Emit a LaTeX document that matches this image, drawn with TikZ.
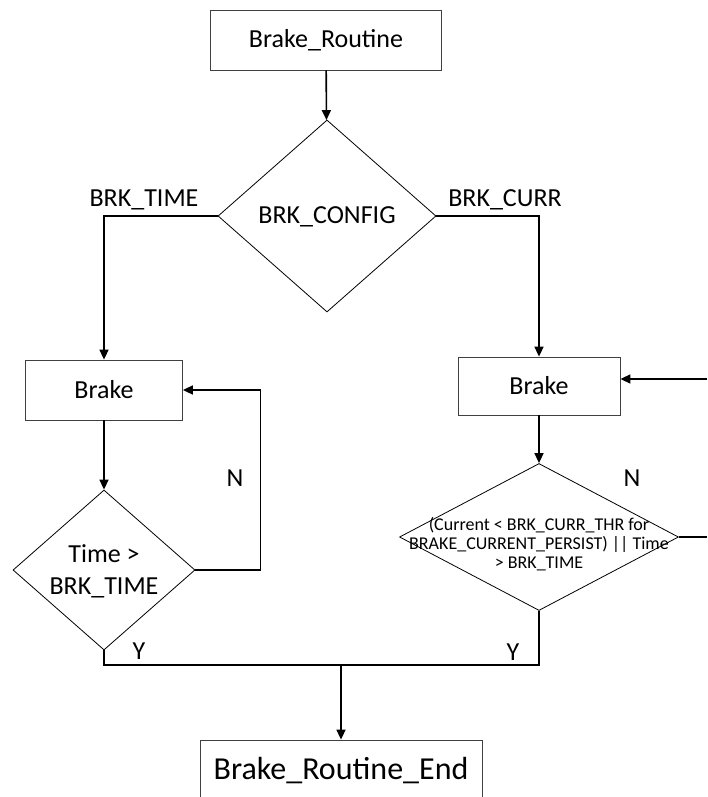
\documentclass[tikz,border=0pt]{standalone}
\usepackage{fontspec}
\setmainfont{Carlito}
\usetikzlibrary{shapes.geometric,arrows.meta}
\begin{document}
\begin{tikzpicture}[x=1pt,y=-1pt,
  box/.style={draw=black!75,line width=0.8pt,rectangle,inner sep=0pt,font=\fontsize{26}{32}\selectfont},
  dia/.style={draw=black,line width=0.8pt,diamond,inner sep=0pt},
  dtext/.style={align=center,inner sep=0pt},
  conn/.style={line width=1.6pt,black},
  arr/.style={conn,-{Triangle[length=10pt,width=9pt]}},
  lbl/.style={font=\fontsize{26}{32}\selectfont,inner sep=0pt}]
\clip (0,0) rectangle (707,797);
\fill[white] (0,0) rectangle (707,797);
\node[box,minimum width=231pt,minimum height=60pt] (top) at (326,40) {Brake\_Routine};
\node[dia,minimum width=218pt,minimum height=192pt] (cfg) at (327,216) {};
\node[dtext,font=\fontsize{26}{32}\selectfont] (cfgt) at (327,217) {BRK\_CONFIG};
\node[box,minimum width=157pt,minimum height=60pt] (brkL) at (104,390) {Brake};
\node[dia,minimum width=182pt,minimum height=160pt] (decL) at (104,570) {};
\node[dtext,font=\fontsize{26}{32}\selectfont] (decLt) at (104,571) {Time >\\BRK\_TIME};
\node[box,minimum width=162pt,minimum height=58pt] (brkR) at (539,386) {Brake};
\node[dia,minimum width=279pt,minimum height=147pt] (decR) at (539,537) {};
\node[dtext,font=\fontsize{18}{19}\selectfont] (decRt) at (539,544) {(Current < BRK\_CURR\_THR for\\BRAKE\_CURRENT\_PERSIST) || Time\\> BRK\_TIME};
\node[box,minimum width=282pt,minimum height=62pt,font=\fontsize{32}{38}\selectfont] (endb) at (341,771) {Brake\_Routine\_End};
\node[lbl] (lt) at (144,200) {BRK\_TIME};
\node[lbl] (lc) at (505,200) {BRK\_CURR};
\node[lbl] (nl) at (235,478) {N};
\node[lbl] (nr) at (632,478) {N};
\node[lbl] (yl) at (139,651) {Y};
\node[lbl] (yr) at (513,652) {Y};
\coordinate (inR) at (707,379);
\coordinate (outR) at (707,537);
\coordinate (jl) at (104,665);
\coordinate (jr) at (539,665);
\coordinate (jm) at (341,665);
\draw[arr] (top) -- (cfg);
\draw[arr] (cfg.west) -| (brkL.north);
\draw[arr] (cfg.east) -| (brkR.north);
\draw[arr] (brkL) -- (decL);
\draw[arr] (decL.east) -- ++(65,0) |- (brkL.east);
\draw[arr] (inR) -- (brkR.east |- inR);
\draw[arr] (brkR) -- (decR);
\draw[conn] (decR.east) -- (outR);
\draw[conn] (decL.south) -- (jl) -- (jr) -- (decR.south);
\draw[arr] (jm) -- (endb.north);
\end{tikzpicture}
\end{document}
